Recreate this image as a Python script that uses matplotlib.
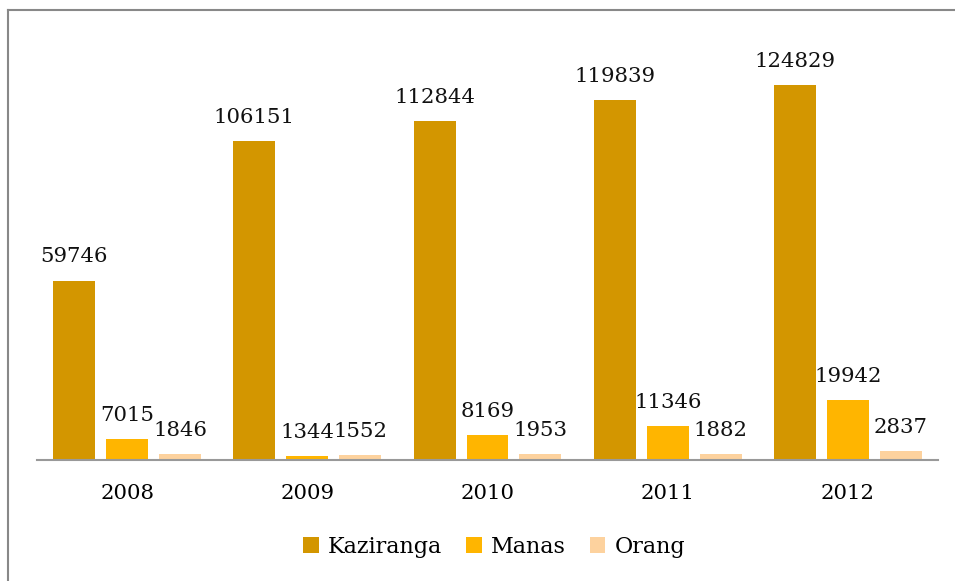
import matplotlib.pyplot as plt
import numpy as np
from matplotlib.lines import Line2D

years = ['2008', '2009', '2010', '2011', '2012']
kaziranga = [59746, 106151, 112844, 119839, 124829]
manas = [7015, 1344, 8169, 11346, 19942]
orang = [1846, 1552, 1953, 1882, 2837]

series = [('Kaziranga', kaziranga, '#D39600'),
          ('Manas', manas, '#FFB500'),
          ('Orang', orang, '#FDD29E')]

plt.rcParams['font.family'] = ['DejaVu Serif']

W, H = 955, 581
fig = plt.figure(figsize=(W / 100, H / 100), dpi=100)
ax = fig.add_axes([37 / W, 1 - 460 / H, (938 - 37) / W, (460 - 40) / H])

x = np.arange(len(years))
bw = 0.233
step = 0.294
for i, (name, vals, col) in enumerate(series):
    pos = x + (i - 1) * step
    ax.bar(pos, vals, width=bw, color=col, label=name)
    for px, v in zip(pos, vals):
        ax.annotate(str(v), (px, v), xytext=(0, 13), textcoords='offset points',
                    ha='center', va='baseline', fontsize=15.3, color='#111111')

ax.set_xlim(-0.5, len(years) - 0.5)
ax.set_ylim(0, 124829 * 420 / 375)
ax.set_xticks(x)
ax.set_xticklabels(years, fontsize=15.3)
ax.tick_params(axis='x', length=0, pad=17)
ax.set_yticks([])
for s in ['top', 'right', 'left']:
    ax.spines[s].set_visible(False)
ax.spines['bottom'].set_color('#999999')
ax.spines['bottom'].set_linewidth(1.5)

fig.legend(loc='center', bbox_to_anchor=(494 / W, 1 - 547 / H), ncol=3, frameon=False,
           fontsize=16, handlelength=0.7, handleheight=0.7, handletextpad=0.4,
           columnspacing=1.1)

# outer frame (cut off on the right and bottom)
fig.add_artist(Line2D([8 / W, 8 / W], [1 - 10 / H, 0], transform=fig.transFigure,
                      color='#888888', lw=1.5))
fig.add_artist(Line2D([8 / W, 1], [1 - 10 / H, 1 - 10 / H], transform=fig.transFigure,
                      color='#888888', lw=1.5))

fig.savefig('out.png', dpi=100)
